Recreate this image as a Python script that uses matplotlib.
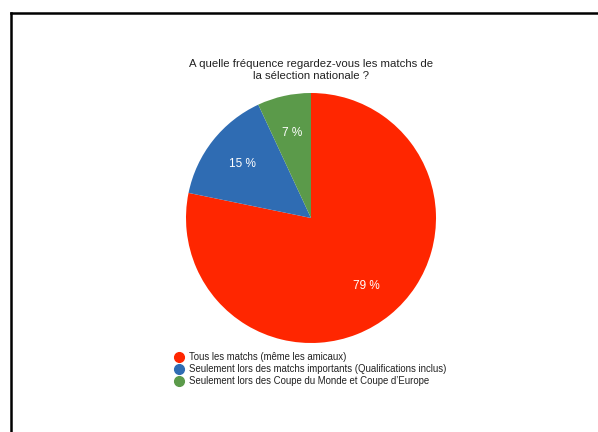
import matplotlib
matplotlib.use("Agg")
import matplotlib.pyplot as plt
from matplotlib.lines import Line2D

title = "A quelle fréquence regardez-vous les matchs de\nla sélection nationale ?"
categories = [
    "Tous les matchs (même les amicaux)",
    "Seulement lors des matchs importants (Qualifications inclus)",
    "Seulement lors des Coupe du Monde et Coupe d’Europe",
]
values = [79, 15, 7]
pct_labels = ["79 %", "15 %", "7 %"]
colors = ["#FF2600", "#2F6CB3", "#5B9A4A"]

plt.rcParams['font.family'] = ['Liberation Sans', 'DejaVu Sans']

fig = plt.figure(figsize=(5.98, 4.32), dpi=100)
fig.patch.set_facecolor("white")

W, H = 598, 432
cx, cy, r = 311, 218, 125
ax = fig.add_axes([(cx - r) / W, 1 - (cy + r) / H, 2 * r / W, 2 * r / H])

it = iter(pct_labels)
wedges, texts, autotexts = ax.pie(
    values, colors=colors, startangle=90, counterclock=False,
    autopct=lambda p: next(it), pctdistance=0.7,
    wedgeprops=dict(linewidth=0),
    textprops=dict(color="white", fontsize=8.5),
)
ax.set_aspect("equal")
ax.set_xlim(-1, 1)
ax.set_ylim(-1, 1)

fig.text(cx / W, 1 - 70 / H, title, ha="center", va="center", fontsize=8.2,
         color="#222222", linespacing=1.25)

# legend
for i, (lab, c) in enumerate(zip(categories, colors)):
    y = 1 - (357 + i * 12) / H
    fig.add_artist(Line2D([179 / W], [y], marker="o", markersize=7,
                          markerfacecolor=c, markeredgecolor=c, linestyle="none",
                          transform=fig.transFigure))
    fig.text(189 / W, y, lab, ha="left", va="center", fontsize=6.9, color="#222222")

# frame border lines (top and left)
fig.add_artist(Line2D([11 / W, 1.0], [1 - 13 / H, 1 - 13 / H], color="black",
                      linewidth=1.8, transform=fig.transFigure))
fig.add_artist(Line2D([11 / W, 11 / W], [0, 1 - 13 / H], color="black",
                      linewidth=1.8, transform=fig.transFigure))

fig.savefig("out.png", dpi=100)
